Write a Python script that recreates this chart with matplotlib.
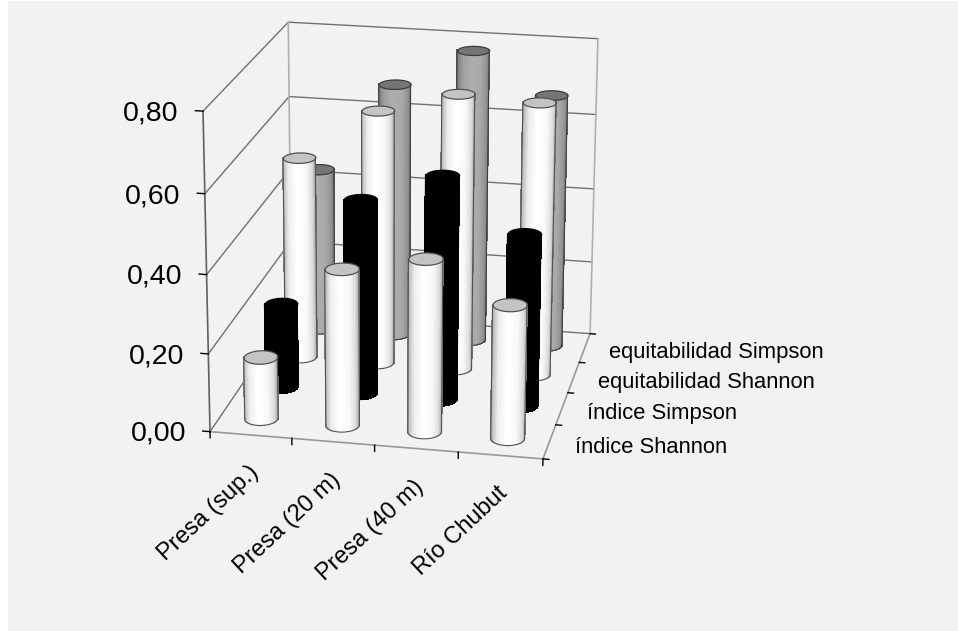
import numpy as np
import matplotlib
matplotlib.use("Agg")
import matplotlib.pyplot as plt
from matplotlib.patches import Rectangle
from mpl_toolkits.mplot3d import proj3d
from mpl_toolkits.mplot3d.art3d import Poly3DCollection

plt.rcParams['font.family'] = ['Liberation Sans', 'DejaVu Sans']

sites = ["Presa (sup.)", "Presa (20 m)", "Presa (40 m)", "Río Chubut"]
series = ["índice Shannon", "índice Simpson", "equitabilidad Shannon", "equitabilidad Simpson"]
shannon = [0.16, 0.40, 0.44, 0.34]
simpson = [0.22, 0.505, 0.58, 0.445]
eq_shannon = [0.535, 0.67, 0.725, 0.715]
eq_simpson = [0.44, 0.68, 0.78, 0.675]
values = [shannon, simpson, eq_shannon, eq_simpson]
z_ticks = [0.0, 0.2, 0.4, 0.6, 0.8]

# camera fitted to the corners of the box in the reference
elev, azim, roll = 18.8293, -78.8922, -0.2066
focal = 0.9079
box = (1, 1.0357, 0.9922)
W, H = 958, 631
ax_left, ax_bottom, ax_size = 124.26, 116.2, 555.1

radius = 0.2

# brightness across the cylinder, left edge to right edge
stops = [-1, -0.9, -0.6, -0.1, 0.4, 0.75, 0.93, 1]
styles = [
    dict(side=[.5, .74, .93, 1, .97, .86, .68, .45], cap='#c4c4c4', line='#505050'),
    dict(side=[0, 0, 0, 0, 0, 0, 0, 0], cap='#000000', line='#000000'),
    dict(side=[.5, .74, .93, 1, .97, .86, .68, .45], cap='#c4c4c4', line='#505050'),
    dict(side=[.36, .5, .62, .68, .66, .58, .48, .34], cap='#757575', line='#3c3c3c'),
]

fig = plt.figure(figsize=(W / 100, H / 100), dpi=100, facecolor='white')
fig.patches.append(Rectangle((8 / W, 0), 1, 1 - 1 / H, transform=fig.transFigure,
                             facecolor='#f2f2f2', edgecolor='none', figure=fig, zorder=-1))
ax = fig.add_axes([ax_left / W, ax_bottom / H, ax_size / W, ax_size / H],
                  projection='3d', computed_zorder=False)
ax.patch.set_alpha(0)
ax.set_axis_off()
ax.set_xlim(0, 4)
ax.set_ylim(0, 4)
ax.set_zlim(0, 0.8)
ax.view_init(elev, azim, roll)
ax.set_proj_type('persp', focal_length=focal)
ax.set_box_aspect(box)

zmax = z_ticks[-1]
grid = '#707070'
for z in z_ticks:
    ax.plot([0, 0, 4], [0, 4, 4], [z, z, z], color=grid, lw=1.0, zorder=1)
ax.plot([0, 4, 4], [0, 0, 4], [0, 0, 0], color='#999999', lw=1.2, zorder=1)
ax.plot([0, 0], [0, 0], [0, zmax], color='#606060', lw=1.2, zorder=1)
ax.plot([0, 0], [4, 4], [0, zmax], color='#b0b0b0', lw=1.2, zorder=1)
ax.plot([4, 4], [4, 4], [0, zmax], color='#b0b0b0', lw=1.2, zorder=1)

# ticks
for z in z_ticks:
    ax.plot([-0.09, 0], [0, 0], [z, z], color='black', lw=1.0, zorder=2)
for i in range(5):
    ax.plot([i, i], [0, 0], [0, -0.016], color='black', lw=1.0, zorder=2)
for j in range(5):
    ax.plot([4, 4.07], [j, j], [0, 0], color='black', lw=1.0, zorder=2)


def draw_cylinder(cx, cy, h, style, order):
    rx, ry = radius, 1.1 * radius / box[1]
    az = np.radians(azim)
    t = np.linspace(az - np.pi / 2 - 0.03, az + np.pi / 2 + 0.03, 61)
    u = np.sin(t - az)
    g = np.interp(u, stops, style['side'])
    rgba = np.ones((2, len(t), 4))
    rgba[:, :, 0] = g
    rgba[:, :, 1] = g
    rgba[:, :, 2] = g
    xs = np.tile(cx + rx * np.cos(t), (2, 1))
    ys = np.tile(cy + ry * np.sin(t), (2, 1))
    zs = np.array([np.zeros_like(t), np.full_like(t, h)])
    ax.plot_surface(xs, ys, zs, facecolors=rgba, rstride=1, cstride=1, shade=False,
                    linewidth=0.5, antialiased=False, zorder=order)
    a = np.linspace(0, 2 * np.pi, 73)
    rim = list(zip(cx + rx * np.cos(a), cy + ry * np.sin(a), np.full_like(a, h)))
    ax.add_collection3d(Poly3DCollection([rim], facecolor=style['cap'],
                                         edgecolor=style['line'], linewidth=0.9,
                                         zorder=order + 0.1))
    line = dict(color=style['line'], lw=0.8, zorder=order + 0.2)
    ax.plot(cx + rx * np.cos(t), cy + ry * np.sin(t), 0 * t, **line)
    for e in (t[1], t[-2]):
        ex, ey = cx + rx * np.cos(e), cy + ry * np.sin(e)
        ax.plot([ex, ex], [ey, ey], [0, h], **line)


for j in range(3, -1, -1):
    for i in range(4):
        draw_cylinder(i + 0.5, j + 0.5, values[j][i], styles[j], 10 + 4 - j)


def label(x, y, z, s, **kw):
    # plain 2D text placed at a projected 3D position, so rotation stays as asked
    px, py, _ = proj3d.proj_transform(x, y, z, ax.get_proj())
    ax.text2D(px, py, s, transform=ax.transData, **kw)


for z in z_ticks:
    label(-0.29, 0, z - 0.01, f"{z:.2f}".replace('.', ','), fontsize=20.5, ha='right', va='center')
for i, s in enumerate(sites):
    label(i + 0.46, 0, -0.07, s, fontsize=17, rotation=43, ha='right', va='top',
          rotation_mode='anchor')
for j, s in enumerate(series):
    label(4.31, j + 0.5, -0.009, s, fontsize=15.8, ha='left', va='center')

fig.savefig("out.png", dpi=100)
